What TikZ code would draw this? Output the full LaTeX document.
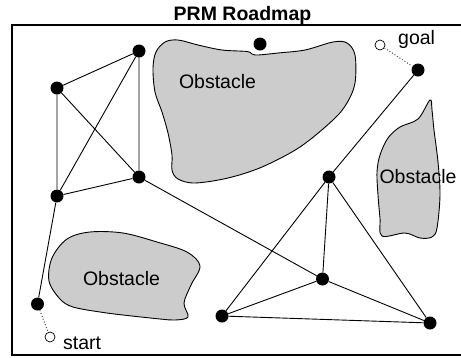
\documentclass[tikz,border=0pt]{standalone}
\usepackage{fontspec}
\setmainfont{Liberation Sans}
\begin{document}
\begin{tikzpicture}[x=1pt,y=-1pt,
  dot/.style={circle,fill=black,inner sep=0pt,minimum size=13pt},
  hole/.style={circle,draw=black,fill=white,inner sep=0pt,minimum size=10pt,line width=0.7pt},
  edge/.style={line width=0.9pt,black},
  obst/.style={draw=black,fill=black!20,line width=0.9pt},
  lbl/.style={font=\fontsize{19.5}{20}\selectfont,inner sep=0pt},
  link/.style={dotted,line width=1pt,black!70}]
\useasboundingbox (0,0) rectangle (461,357);
% frame
\draw[line width=2pt] (463,25) -- (12,25) -- (12,354.5) -- (463,354.5);
\node[font=\bfseries\fontsize{19.5}{20}\selectfont,anchor=base,inner sep=0pt] (title) at (242.5,20) {PRM Roadmap};
% obstacles
\draw[obst] plot[smooth cycle,tension=0.55] coordinates {
  (156,52) (165,42) (178,40) (198,45) (222,50) (247,51.5) (252,54) (258,55)
  (278,53) (305,50) (333,42) (347,43) (355,55) (355,83) (347,103) (333,120)
  (300,147) (262,167) (228,178) (195,183) (178,179) (172,170) (172,155)
  (168,133) (162,112) (155,92) (153,68)};
\draw[obst] plot[smooth cycle,tension=0.55] coordinates {
  (430,100) (418,119) (400,127) (388,138) (380,155) (377,172) (378,195)
  (380,218) (382,236) (405,233) (420,238) (432,237) (437,228) (440,195)
  (438,162) (434,130) (432,110)};
\draw[obst] plot[smooth cycle,tension=0.55] coordinates {
  (67,239) (90,232) (123,233) (157,242) (187,252) (200,266) (191,285)
  (184,303) (188,317) (175,320) (160,319) (123,315) (100,312) (73,307)
  (60,299) (49,281) (52,258)};
\node[lbl] (o1) at (217.5,82) {Obstacle};
\node[lbl] (o2) at (418,177) {Obstacle};
\node[lbl] (o3) at (121.5,279) {Obstacle};
% nodes
\node[dot] (A) at (139,51) {};
\node[dot] (B) at (57,88) {};
\node[dot] (C) at (139,177) {};
\node[dot] (D) at (57,196) {};
\node[dot] (E) at (37.5,304) {};
\node[dot] (F) at (260,44) {};
\node[dot] (G) at (418,70) {};
\node[dot] (H) at (329,177) {};
\node[dot] (I) at (322.5,279) {};
\node[dot] (J) at (222,316) {};
\node[dot] (K) at (430,323) {};
\node[hole] (goal) at (380,45) {};
\node[hole] (start) at (50,337) {};
\node[lbl,anchor=base west] (goaltxt) at (398,44) {goal};
\node[lbl,anchor=base west] (starttxt) at (63,349.5) {start};
% edges
\draw[edge] (A) -- (B) (A) -- (D) (A) -- (C) (B) -- (D) (B) -- (C) (D) -- (C)
  (D) -- (E) (C) -- (I) (H) -- (G) (H) -- (J) (H) -- (I) (H) -- (K)
  (J) -- (I) (I) -- (K) (J) -- (K);
\draw[link] (goal) -- (G);
\draw[link] (E) -- (start);
\end{tikzpicture}
\end{document}
